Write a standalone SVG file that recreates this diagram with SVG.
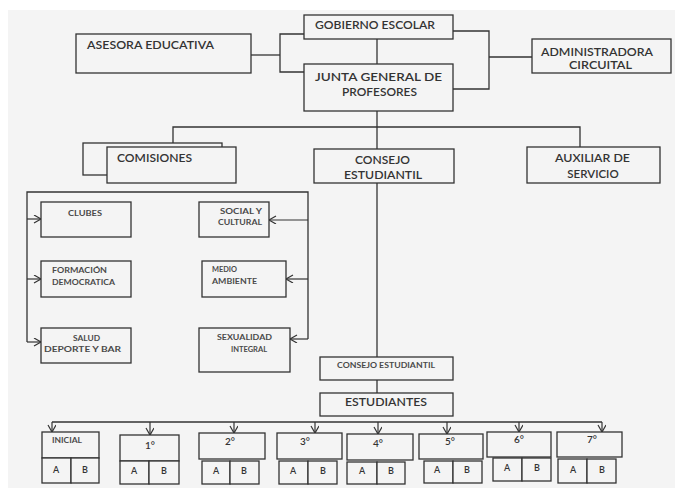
<svg xmlns="http://www.w3.org/2000/svg" width="675" height="488" viewBox="0 0 675 488">
<defs>
<style>
.bx{fill:#f4f4f4;stroke:#333;stroke-width:1.3}
.ln{fill:none;stroke:#333;stroke-width:1.3}
.ar{fill:none;stroke:#333;stroke-width:1.2}
.t{font-family:Lato,"Liberation Sans",sans-serif;font-size:11.5px;fill:#333;font-weight:600}
.s{font-family:Lato,"Liberation Sans",sans-serif;font-size:7.5px;fill:#4a4a4a;font-weight:700}
.g{font-family:Lato,"Liberation Sans",sans-serif;font-size:10px;fill:#333;font-weight:600}
.m{text-anchor:middle}
</style>
<marker id="ah" markerWidth="10" markerHeight="10" refX="8" refY="4" orient="auto" markerUnits="userSpaceOnUse">
<path d="M1,0 L8,4 L1,8" fill="none" stroke="#333" stroke-width="1.2"/>
</marker>
</defs>
<rect x="0" y="0" width="675" height="488" fill="#ffffff"/>
<rect x="8" y="10" width="667" height="478" fill="#f4f4f4"/>

<g id="connectors">
<polyline class="ln" points="251,55 280,55"/>
<polyline class="ln" points="304,34 280,34 280,72 304,72"/>
<polyline class="ln" points="377,39 377,64"/>
<polyline class="ln" points="453,31 489,31 489,89 453,89"/>
<polyline class="ln" points="489,57 532,57"/>
<polyline class="ln" points="377,111 377,149"/>
<polyline class="ln" points="173,143 173,127 580,127 580,147"/>
<polyline class="ln" points="377,183 377,357"/>
<polyline class="ln" points="377,380 377,393"/>
<polyline class="ln" points="27,342 27,192 308,192 308,339"/>
<line class="ar" x1="27" y1="219" x2="41" y2="219" marker-end="url(#ah)"/>
<line class="ar" x1="27" y1="279" x2="41" y2="279" marker-end="url(#ah)"/>
<line class="ar" x1="27" y1="342" x2="41" y2="342" marker-end="url(#ah)"/>
<line class="ar" x1="308" y1="220" x2="269" y2="220" marker-end="url(#ah)"/>
<line class="ar" x1="308" y1="279" x2="286" y2="279" marker-end="url(#ah)"/>
<line class="ar" x1="308" y1="339" x2="290" y2="339" marker-end="url(#ah)"/>
<polyline class="ln" points="52,422 602,422"/>
<line class="ar" x1="52" y1="422" x2="52" y2="432" marker-end="url(#ah)"/>
<line class="ar" x1="150" y1="422" x2="150" y2="435" marker-end="url(#ah)"/>
<line class="ar" x1="234" y1="422" x2="234" y2="433" marker-end="url(#ah)"/>
<line class="ar" x1="315" y1="422" x2="315" y2="433" marker-end="url(#ah)"/>
<line class="ar" x1="378" y1="422" x2="378" y2="434" marker-end="url(#ah)"/>
<line class="ar" x1="447" y1="422" x2="447" y2="434" marker-end="url(#ah)"/>
<line class="ar" x1="519" y1="422" x2="519" y2="432" marker-end="url(#ah)"/>
<line class="ar" x1="602" y1="422" x2="602" y2="432" marker-end="url(#ah)"/>
</g>

<g id="asesora">
<rect class="bx" x="76" y="34" width="175" height="39"/>
<text class="t" x="87" y="49" textLength="127" lengthAdjust="spacingAndGlyphs">ASESORA EDUCATIVA</text>
</g>
<g id="gobierno">
<rect class="bx" x="304" y="15" width="149" height="24"/>
<text class="t" x="315" y="29" textLength="120" lengthAdjust="spacingAndGlyphs">GOBIERNO ESCOLAR</text>
</g>
<g id="junta">
<rect class="bx" x="304" y="64" width="149" height="47"/>
<text class="t" x="315" y="81" textLength="127" lengthAdjust="spacingAndGlyphs">JUNTA GENERAL DE</text>
<text class="t" x="342" y="96" textLength="75" lengthAdjust="spacingAndGlyphs">PROFESORES</text>
</g>
<g id="administradora">
<rect class="bx" x="532" y="39" width="139" height="34"/>
<text class="t" x="541" y="56" textLength="112" lengthAdjust="spacingAndGlyphs">ADMINISTRADORA</text>
<text class="t" x="569" y="69" textLength="63" lengthAdjust="spacingAndGlyphs">CIRCUITAL</text>
</g>
<g id="comisiones">
<rect class="bx" x="83" y="143" width="139" height="32"/>
<rect class="bx" x="107" y="147" width="129" height="36"/>
<text class="t" x="117" y="162" textLength="75" lengthAdjust="spacingAndGlyphs">COMISIONES</text>
</g>
<g id="consejo">
<rect class="bx" x="314" y="149" width="140" height="34"/>
<text class="t" x="355" y="164" textLength="55" lengthAdjust="spacingAndGlyphs">CONSEJO</text>
<text class="t" x="344" y="179" textLength="78" lengthAdjust="spacingAndGlyphs">ESTUDIANTIL</text>
</g>
<g id="auxiliar">
<rect class="bx" x="527" y="147" width="133" height="36"/>
<text class="t" x="555" y="162" textLength="75" lengthAdjust="spacingAndGlyphs">AUXILIAR DE</text>
<text class="t m" x="593" y="178">SERVICIO</text>
</g>

<g id="clubes">
<rect class="bx" x="41" y="202" width="90" height="35"/>
<text class="s" x="68" y="216" textLength="34" lengthAdjust="spacingAndGlyphs">CLUBES</text>
</g>
<g id="formacion">
<rect class="bx" x="41" y="261" width="90" height="36"/>
<text class="s" x="52" y="273" textLength="55" lengthAdjust="spacingAndGlyphs">FORMACIÓN</text>
<text class="s" x="52" y="285" textLength="63" lengthAdjust="spacingAndGlyphs">DEMOCRATICA</text>
</g>
<g id="salud">
<rect class="bx" x="41" y="328" width="90" height="35"/>
<text class="s" x="73" y="341" textLength="27" lengthAdjust="spacingAndGlyphs">SALUD</text>
<text class="s" x="44" y="352" textLength="77" lengthAdjust="spacingAndGlyphs">DEPORTE  Y BAR</text>
</g>
<g id="social">
<rect class="bx" x="199" y="202" width="70" height="35"/>
<text class="s" x="220" y="214" textLength="42" lengthAdjust="spacingAndGlyphs">SOCIAL Y</text>
<text class="s" x="218" y="225" textLength="44" lengthAdjust="spacingAndGlyphs">CULTURAL</text>
</g>
<g id="medio">
<rect class="bx" x="202" y="261" width="84" height="36"/>
<text class="s" x="212" y="272" textLength="25" lengthAdjust="spacingAndGlyphs">MEDIO</text>
<text class="s" x="212" y="284" textLength="45" lengthAdjust="spacingAndGlyphs">AMBIENTE</text>
</g>
<g id="sexualidad">
<rect class="bx" x="199" y="328" width="91" height="44"/>
<text class="s" x="217" y="340" textLength="55" lengthAdjust="spacingAndGlyphs">SEXUALIDAD</text>
<text class="s m" x="249" y="352">INTEGRAL</text>
</g>

<g id="consejo-estudiantil">
<rect class="bx" x="320" y="357" width="133" height="23"/>
<text class="s" x="337" y="368" textLength="98" lengthAdjust="spacingAndGlyphs">CONSEJO ESTUDIANTIL</text>
</g>
<g id="estudiantes">
<rect class="bx" x="320" y="393" width="133" height="23"/>
<text class="t" x="345" y="406" textLength="82" lengthAdjust="spacingAndGlyphs" style="font-size:12px">ESTUDIANTES</text>
</g>

<g id="inicial">
<rect class="bx" x="42" y="432" width="57" height="26"/>
<text class="s" x="52" y="443" textLength="30" lengthAdjust="spacingAndGlyphs">INICIAL</text>
<rect class="bx" x="42" y="458" width="29" height="25"/>
<rect class="bx" x="71" y="458" width="28" height="25"/>
<text class="g m" x="56" y="473" style="font-size:9px">A</text>
<text class="g m" x="85" y="473" style="font-size:9px">B</text>
</g>
<g id="grado1">
<rect class="bx" x="120" y="435" width="59" height="26"/>
<text class="g m" x="150" y="449">1°</text>
<rect class="bx" x="120" y="461" width="29" height="23"/>
<rect class="bx" x="149" y="461" width="30" height="23"/>
<text class="g m" x="134" y="474" style="font-size:9px">A</text>
<text class="g m" x="164" y="474" style="font-size:9px">B</text>
</g>
<g id="grado2">
<rect class="bx" x="199" y="433" width="66" height="26"/>
<text class="g m" x="230" y="445">2°</text>
<rect class="bx" x="202" y="461" width="28" height="23"/>
<rect class="bx" x="230" y="461" width="29" height="23"/>
<text class="g m" x="216" y="474" style="font-size:9px">A</text>
<text class="g m" x="244" y="474" style="font-size:9px">B</text>
</g>
<g id="grado3">
<rect class="bx" x="277" y="433" width="65" height="26"/>
<text class="g m" x="305" y="445">3°</text>
<rect class="bx" x="279" y="461" width="29" height="23"/>
<rect class="bx" x="308" y="461" width="29" height="23"/>
<text class="g m" x="293" y="474" style="font-size:9px">A</text>
<text class="g m" x="323" y="474" style="font-size:9px">B</text>
</g>
<g id="grado4">
<rect class="bx" x="347" y="434" width="66" height="26"/>
<text class="g m" x="378" y="447">4°</text>
<rect class="bx" x="347" y="462" width="30" height="22"/>
<rect class="bx" x="377" y="462" width="28" height="22"/>
<text class="g m" x="362" y="474" style="font-size:9px">A</text>
<text class="g m" x="391" y="474" style="font-size:9px">B</text>
</g>
<g id="grado5">
<rect class="bx" x="419" y="434" width="64" height="25"/>
<text class="g m" x="450" y="445">5°</text>
<rect class="bx" x="424" y="461" width="29" height="22"/>
<rect class="bx" x="453" y="461" width="29" height="22"/>
<text class="g m" x="437" y="473" style="font-size:9px">A</text>
<text class="g m" x="467" y="473" style="font-size:9px">B</text>
</g>
<g id="grado6">
<rect class="bx" x="487" y="432" width="64" height="25"/>
<text class="g m" x="519" y="443">6°</text>
<rect class="bx" x="493" y="458" width="29" height="23"/>
<rect class="bx" x="522" y="458" width="29" height="23"/>
<text class="g m" x="507" y="471" style="font-size:9px">A</text>
<text class="g m" x="537" y="471" style="font-size:9px">B</text>
</g>
<g id="grado7">
<rect class="bx" x="557" y="432" width="65" height="25"/>
<text class="g m" x="592" y="443">7°</text>
<rect class="bx" x="558" y="459" width="29" height="24"/>
<rect class="bx" x="587" y="459" width="29" height="24"/>
<text class="g m" x="573" y="473" style="font-size:9px">A</text>
<text class="g m" x="602" y="473" style="font-size:9px">B</text>
</g>
</svg>
